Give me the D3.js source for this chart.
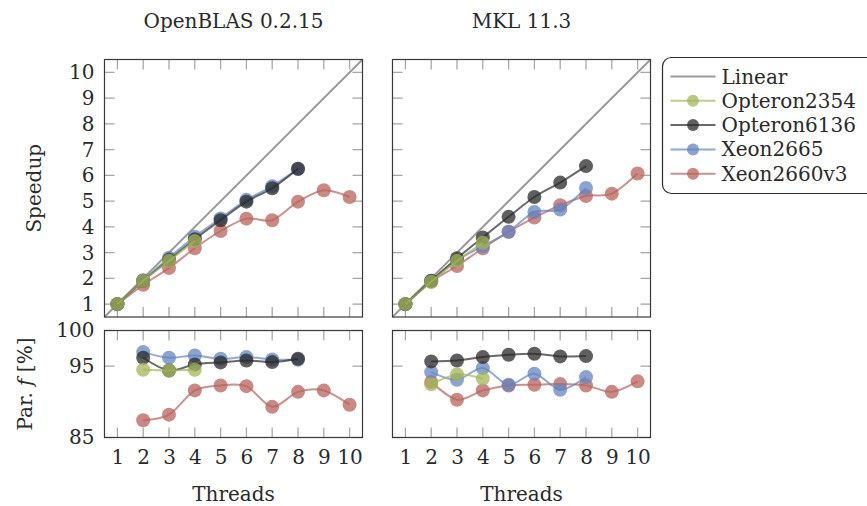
<!DOCTYPE html>
<html>
<head>
<meta charset="utf-8">
<script src="https://cdn.jsdelivr.net/npm/d3@7"></script>
<style>
  html, body { margin: 0; padding: 0; background: #fff; }
  svg { display: block; }
  text { font-family: "DejaVu Serif", serif; fill: #2a2a2a; }
</style>
</head>
<body>
<svg id="chart" width="867" height="506"></svg>
<script>
// ---------------- data ----------------
const threads = [1, 2, 3, 4, 5, 6, 7, 8, 9, 10];
const seriesNames = ["Opteron2354", "Opteron6136", "Xeon2665", "Xeon2660v3"];
const panelTitles = ["OpenBLAS 0.2.15", "MKL 11.3"];
const speedupTicks = [1, 2, 3, 4, 5, 6, 7, 8, 9, 10];
const parTicks = [85, 95, 100];

// Speedup, OpenBLAS (threads from 1)
const oblOpteron2354 = [1.0, 1.91, 2.68, 3.45];
const oblOpteron6136 = [1.0, 1.91, 2.72, 3.52, 4.26, 4.98, 5.50, 6.26];
const oblXeon2665    = [1.0, 1.93, 2.80, 3.62, 4.33, 5.05, 5.58, 6.25];
const oblXeon2660v3  = [1.0, 1.75, 2.40, 3.17, 3.84, 4.32, 4.26, 4.98, 5.42, 5.16];
// Speedup, MKL
const mklOpteron2354 = [1.0, 1.87, 2.68, 3.38];
const mklOpteron6136 = [1.0, 1.91, 2.78, 3.59, 4.39, 5.16, 5.72, 6.36];
const mklXeon2665    = [1.0, 1.90, 2.70, 3.25, 3.81, 4.58, 4.67, 5.51];
const mklXeon2660v3  = [1.0, 1.87, 2.48, 3.17, 3.81, 4.36, 4.84, 5.20, 5.29, 6.07];

// Parallel fraction f [%], threads from 2
const oblParOpteron2354 = [94.5, 94.4, 94.5];
const oblParOpteron6136 = [96.18, 94.4, 95.25, 95.53, 95.8, 95.57, 96.04];
const oblParXeon2665    = [96.97, 96.18, 96.5, 96.03, 96.27, 95.95, 95.9];
const oblParXeon2660v3  = [87.42, 88.2, 91.6, 92.3, 92.2, 89.3, 91.4, 91.6, 89.6];
const mklParOpteron2354 = [92.45, 93.85, 93.25];
const mklParOpteron6136 = [95.67, 95.8, 96.27, 96.6, 96.74, 96.37, 96.41];
const mklParXeon2665    = [94.17, 93.1, 94.73, 92.4, 93.94, 91.7, 93.47];
const mklParXeon2660v3  = [92.77, 90.3, 91.6, 92.3, 92.4, 92.5, 92.3, 91.4, 92.87];

// ---------------- styles ----------------
const colors = {
  "Opteron2354": "#a3b55a",
  "Opteron6136": "#2a2a2a",
  "Xeon2665":    "#6484bf",
  "Xeon2660v3":  "#b7635c"
};
const linearColor = "#9a9a9a";
const drawOrder = ["Xeon2660v3", "Xeon2665", "Opteron6136", "Opteron2354"];

const panels = [
  { left: 104.5, speed: { "Opteron2354": oblOpteron2354, "Opteron6136": oblOpteron6136, "Xeon2665": oblXeon2665, "Xeon2660v3": oblXeon2660v3 },
    par: { "Opteron2354": oblParOpteron2354, "Opteron6136": oblParOpteron6136, "Xeon2665": oblParXeon2665, "Xeon2660v3": oblParXeon2660v3 } },
  { left: 392.5, speed: { "Opteron2354": mklOpteron2354, "Opteron6136": mklOpteron6136, "Xeon2665": mklXeon2665, "Xeon2660v3": mklXeon2660v3 },
    par: { "Opteron2354": mklParOpteron2354, "Opteron6136": mklParOpteron6136, "Xeon2665": mklParXeon2665, "Xeon2660v3": mklParXeon2660v3 } }
];

const W = 258, topY = 59.5, topH = 257.5, botY = 330.5, botH = 107;
const tickLen = 10;
const svg = d3.select("#chart");
const curve = d3.curveCardinal.tension(0.1);

function frame(g, w, h) {
  g.append("rect").attr("width", w).attr("height", h)
    .attr("fill", "none").attr("stroke", "#3a3a3a").attr("stroke-width", 1.2);
}

panels.forEach((p, pi) => {
  const x = d3.scaleLinear().domain([0.5, 10.5]).range([0, W]);
  // ---- top: speedup ----
  const y = d3.scaleLinear().domain([0.5, 10.5]).range([topH, 0]);
  const g = svg.append("g").attr("transform", `translate(${p.left},${topY})`);
  const tickStyle = s => s.attr("stroke", "#a8a8a8").attr("stroke-width", 1.3);
  // ticks inside, mirrored
  threads.forEach(t => {
    tickStyle(g.append("line").attr("x1", x(t)).attr("x2", x(t)).attr("y1", topH).attr("y2", topH - tickLen));
    tickStyle(g.append("line").attr("x1", x(t)).attr("x2", x(t)).attr("y1", 0).attr("y2", tickLen));
  });
  speedupTicks.forEach(t => {
    tickStyle(g.append("line").attr("y1", y(t)).attr("y2", y(t)).attr("x1", 0).attr("x2", tickLen));
    tickStyle(g.append("line").attr("y1", y(t)).attr("y2", y(t)).attr("x1", W).attr("x2", W - tickLen));
  });
  if (pi === 0) {
    const ax = d3.axisLeft(y).tickValues(speedupTicks).tickSize(0).tickPadding(10);
    const a = g.append("g").call(ax);
    a.select(".domain").remove();
    a.selectAll("text").style("font-family", "DejaVu Serif").style("font-size", "20px").attr("fill", "#2a2a2a");
  }
  // linear
  const lin = d3.line().x(d => x(d)).y(d => y(d));
  g.append("path").datum([0.5, 10.5]).attr("d", lin)
    .attr("fill", "none").attr("stroke", linearColor).attr("stroke-width", 2);
  drawOrder.forEach(name => {
    const vals = p.speed[name];
    const pts = vals.map((v, i) => [threads[i], v]);
    g.append("path").datum(pts)
      .attr("d", d3.line().x(d => x(d[0])).y(d => y(d[1])).curve(curve))
      .attr("fill", "none").attr("stroke", colors[name]).attr("stroke-width", 2).attr("stroke-opacity", 0.7);
    g.selectAll(null).data(pts).enter().append("circle")
      .attr("cx", d => x(d[0])).attr("cy", d => y(d[1])).attr("r", 7)
      .attr("fill", colors[name]).attr("fill-opacity", 0.75);
  });
  frame(g, W, topH);
  g.append("text").attr("x", W / 2).attr("y", 28 - topY).attr("text-anchor", "middle")
    .style("font-size", "20px").text(panelTitles[pi]);

  // ---- bottom: parallel fraction ----
  const yb = d3.scaleLinear().domain([85, 100]).range([botH, 0]);
  const gb = svg.append("g").attr("transform", `translate(${p.left},${botY})`);
  threads.forEach(t => {
    tickStyle(gb.append("line").attr("x1", x(t)).attr("x2", x(t)).attr("y1", botH).attr("y2", botH - tickLen));
    tickStyle(gb.append("line").attr("x1", x(t)).attr("x2", x(t)).attr("y1", 0).attr("y2", tickLen));
  });
  parTicks.forEach(t => {
    tickStyle(gb.append("line").attr("y1", yb(t)).attr("y2", yb(t)).attr("x1", 0).attr("x2", tickLen));
    tickStyle(gb.append("line").attr("y1", yb(t)).attr("y2", yb(t)).attr("x1", W).attr("x2", W - tickLen));
  });
  if (pi === 0) {
    const ay = gb.append("g").call(d3.axisLeft(yb).tickValues(parTicks).tickSize(0).tickPadding(10));
    ay.select(".domain").remove();
    ay.selectAll("text").style("font-family", "DejaVu Serif").style("font-size", "20px").attr("fill", "#2a2a2a");
  }
  const axb = gb.append("g").attr("transform", `translate(0,${botH})`)
    .call(d3.axisBottom(x).tickValues(threads).tickSize(0).tickPadding(12));
  axb.select(".domain").remove();
  axb.selectAll("text").style("font-family", "DejaVu Serif").style("font-size", "20px").attr("fill", "#2a2a2a");
  drawOrder.forEach(name => {
    const vals = p.par[name];
    const pts = vals.map((v, i) => [threads[i + 1], v]);
    gb.append("path").datum(pts)
      .attr("d", d3.line().x(d => x(d[0])).y(d => yb(d[1])).curve(curve))
      .attr("fill", "none").attr("stroke", colors[name]).attr("stroke-width", 2).attr("stroke-opacity", 0.7);
    gb.selectAll(null).data(pts).enter().append("circle")
      .attr("cx", d => x(d[0])).attr("cy", d => yb(d[1])).attr("r", 7)
      .attr("fill", colors[name]).attr("fill-opacity", 0.75);
  });
  frame(gb, W, botH);
  gb.append("text").attr("x", W / 2).attr("y", 501 - botY).attr("text-anchor", "middle")
    .style("font-size", "20px").text("Threads");
});

// y-axis titles
svg.append("text").attr("transform", `translate(41,${topY + topH / 2}) rotate(-90)`)
  .attr("text-anchor", "middle").style("font-size", "20px").text("Speedup");
const pt = svg.append("text").attr("transform", `translate(32,${botY + botH / 2}) rotate(-90)`)
  .attr("text-anchor", "middle").style("font-size", "20px");
pt.append("tspan").text("Par. ");
pt.append("tspan").style("font-style", "italic").text("f");
pt.append("tspan").text(" [%]");

// legend
const lg = svg.append("g").attr("transform", "translate(662.5,57.5)");
lg.append("rect").attr("width", 230).attr("height", 136).attr("rx", 9)
  .attr("fill", "#fff").attr("stroke", "#2a2a2a").attr("stroke-width", 1.2);
const legendItems = ["Linear"].concat(seriesNames);
legendItems.forEach((name, i) => {
  const cy = 19 + i * 24.3;
  const col = name === "Linear" ? linearColor : colors[name];
  lg.append("line").attr("x1", 8).attr("x2", 53).attr("y1", cy).attr("y2", cy)
    .attr("stroke", col).attr("stroke-width", 2).attr("stroke-opacity", name === "Linear" ? 1 : 0.7);
  if (name !== "Linear") {
    lg.append("circle").attr("cx", 30.5).attr("cy", cy).attr("r", 6)
      .attr("fill", col).attr("fill-opacity", 0.75);
  }
  lg.append("text").attr("x", 59).attr("y", cy + 7).style("font-size", "20px").text(name);
});
</script>
</body>
</html>
